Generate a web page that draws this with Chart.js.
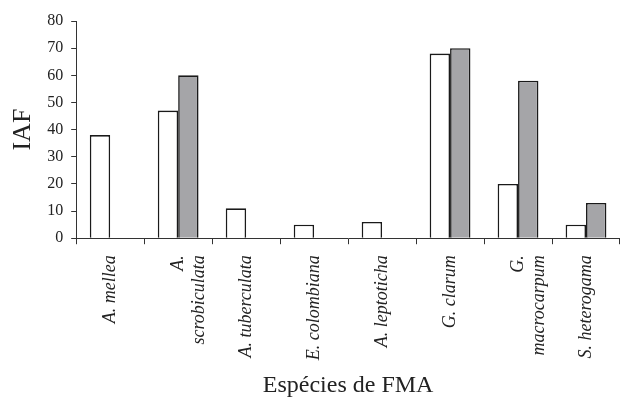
<!DOCTYPE html>
<html>
<head>
<meta charset="utf-8">
<script src="https://cdn.jsdelivr.net/npm/chart.js@4"></script>
<style>
  body{margin:0;background:#fff;}
  #wrap{width:620px;height:400px;}
</style>
</head>
<body>
<div id="wrap"><canvas id="myChart"></canvas></div>
<script>
const categories = [
    "A. mellea",
    ["A.", "scrobiculata"],
    "A. tuberculata",
    "E. colombiana",
    "A. leptoticha",
    "G. clarum",
    ["G.", "macrocarpum"],
    "S. heterogama"
];
const whiteValues = [38, 47, 11, 5, 6, 68, 20, 5];
const grayValues = [null, 60, null, null, null, 70, 58, 13];
const yTicks = [0, 10, 20, 30, 40, 50, 60, 70, 80];

const serif = "'Liberation Serif', 'DejaVu Serif', serif";

const ctx = document.getElementById('myChart').getContext('2d');
const myChart = new Chart(ctx, {
    type: 'bar',
    data: {
        labels: categories,
        datasets: [{
            data: whiteValues,
            backgroundColor: '#ffffff',
            borderColor: '#1a1a1a',
            borderWidth: 1.6,
            categoryPercentage: 0.6,
            barPercentage: 1.0
        }, {
            data: grayValues,
            backgroundColor: '#a5a5a8',
            borderColor: '#1a1a1a',
            borderWidth: 1.6,
            categoryPercentage: 0.6,
            barPercentage: 1.0
        }]
    },
    options: {
        responsive: true,
        maintainAspectRatio: false,
        animation: false,
        layout: {padding: {top: 21, right: 0, left: 8, bottom: 0}},
        plugins: {
            legend: {display: false},
            tooltip: {enabled: false}
        },
        scales: {
            x: {
                grid: {display: true, drawOnChartArea: false, drawTicks: true, tickLength: 6, color: '#333', offset: true},
                border: {display: true, color: '#333', width: 1},
                ticks: {
                    color: '#222',
                    minRotation: 90,
                    maxRotation: 90,
                    padding: 11,
                    autoSkip: false,
                    font: {family: serif, size: 18, style: 'italic'}
                },
                title: {
                    display: true,
                    text: 'Espécies de FMA',
                    color: '#222',
                    padding: {top: 0, bottom: 0},
                    font: {family: serif, size: 24}
                }
            },
            y: {
                min: 0,
                max: 80,
                afterBuildTicks: function(axis){
                    axis.ticks = yTicks.map(v => ({value: v}));
                },
                grid: {display: true, drawOnChartArea: false, drawTicks: true, tickLength: 5, color: '#333'},
                border: {display: true, color: '#333', width: 1},
                ticks: {
                    color: '#222',
                    padding: 8,
                    font: {family: serif, size: 16}
                },
                title: {
                    display: true,
                    text: 'IAF',
                    color: '#222',
                    padding: {top: 0, bottom: 0},
                    font: {family: serif, size: 26}
                }
            }
        }
    }
});
</script>
</body>
</html>
